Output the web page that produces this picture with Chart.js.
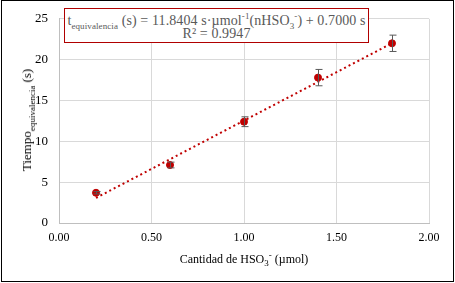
<!DOCTYPE html>
<html>
<head>
<meta charset="utf-8">
<script src="https://cdn.jsdelivr.net/npm/chart.js@4"></script>
<style>
  html, body { margin: 0; padding: 0; background: #fff; }
  #wrap { position: relative; width: 455px; height: 283px; font-family: "Liberation Serif", "Times New Roman", serif; }
  #chart { position: absolute; left: 0; top: 0; }
  .lbl { position: absolute; white-space: nowrap; color: #000; font-size: 12px; }
  #eq { position: absolute; left: 64px; top: 8px; width: 303px; height: 28px; padding-top: 5px; border: 1px solid #b00000;
        background: #fff; color: #595959; font-size: 14px; line-height: 13px; text-align: center; letter-spacing: 0.1px; }
  #ytitle { left: 27px; top: 120px; font-size: 13px; transform: translate(-50%, -50%) rotate(-90deg); }
  #xtitle { left: 244px; top: 252px; transform: translateX(-50%); }
  sub, sup { font-size: 9px; line-height: 0; }
</style>
</head>
<body>
<div id="wrap">
  <canvas id="chart" width="455" height="283"></canvas>
  <div id="eq">t<sub>equivalencia</sub> (s) = 11.8404 s·µmol<sup>-1</sup>(nHSO<sub>3</sub><sup>-</sup>) + 0.7000 s<br>R² = 0.9947</div>
  <div class="lbl" id="ytitle">Tiempo<sub>equivalencia</sub> (s)</div>
  <div class="lbl" id="xtitle">Cantidad de HSO<sub>3</sub><sup>-</sup> (µmol)</div>
</div>
<script>
// measured data (amount in umol vs time in s)
const amounts = [0.2, 0.6, 1.0, 1.4, 1.8];
const times = [3.7, 7.1, 12.4, 17.8, 22.0];
const errors = [0.15, 0.35, 0.6, 1.0, 1.0];

// linear trendline end points
const trendX = [0.2, 1.8];
const trendY = [3.07, 22.01];

const xTicks = [0, 0.5, 1.0, 1.5, 2.0];
const yTicks = [0, 5, 10, 15, 20, 25];

const errorBars = {
  id: "errorBars",
  afterDatasetsDraw(chart) {
    const ctx = chart.ctx;
    const x = chart.scales.x, y = chart.scales.y;
    ctx.save();
    ctx.strokeStyle = "#595959";
    ctx.lineWidth = 1;
    amounts.forEach((a, i) => {
      const px = Math.round(x.getPixelForValue(a)) + 0.5;
      const top = y.getPixelForValue(times[i] + errors[i]);
      const bot = y.getPixelForValue(times[i] - errors[i]);
      ctx.beginPath();
      ctx.moveTo(px, top); ctx.lineTo(px, bot);
      ctx.moveTo(px - 3, top); ctx.lineTo(px + 4, top);
      ctx.moveTo(px - 3, bot); ctx.lineTo(px + 4, bot);
      ctx.stroke();
    });
    ctx.restore();
  },
  afterDraw(chart) {
    const ctx = chart.ctx;
    ctx.save();
    ctx.strokeStyle = "#000";
    ctx.lineWidth = 1;
    ctx.strokeRect(1.5, 0.5, 452, 281);
    ctx.restore();
  }
};

new Chart(document.getElementById("chart"), {
  type: "scatter",
  data: {
    datasets: [
      {
        label: "Tiempo",
        data: amounts.map((a, i) => ({ x: a, y: times[i] })),
        backgroundColor: "#c00000",
        borderColor: "#c00000",
        pointRadius: 3.5,
        pointHoverRadius: 3.5,
        order: 1
      },
      {
        label: "Lineal",
        data: trendX.map((a, i) => ({ x: a, y: trendY[i] })),
        showLine: true,
        borderColor: "#c00000",
        borderWidth: 2,
        borderDash: [2, 3],
        pointRadius: 0,
        order: 2
      }
    ]
  },
  plugins: [errorBars],
  options: {
    responsive: false,
    animation: false,
    events: [],
    layout: { padding: { left: 0, right: 26, top: 14, bottom: 0 } },
    plugins: { legend: { display: false }, tooltip: { enabled: false } },
    scales: {
      x: {
        type: "linear",
        min: 0, max: 2,
        afterBuildTicks: (s) => { s.ticks = xTicks.map(v => ({ value: v })); },
        afterFit: (s) => { s.height = 60; },
        ticks: {
          color: "#000",
          font: { family: "Liberation Serif", size: 12 },
          padding: 8,
          callback: (v) => v.toFixed(2)
        },
        grid: { color: "#d9d9d9", drawTicks: false },
        border: { color: "#bfbfbf" }
      },
      y: {
        min: 0, max: 25,
        afterBuildTicks: (s) => { s.ticks = yTicks.map(v => ({ value: v })); },
        afterFit: (s) => { s.width = 59; },
        ticks: {
          color: "#000",
          font: { family: "Liberation Serif", size: 13 },
          padding: 11
        },
        grid: { color: "#d9d9d9", drawTicks: false },
        border: { color: "#bfbfbf" }
      }
    }
  }
});
</script>
</body>
</html>
